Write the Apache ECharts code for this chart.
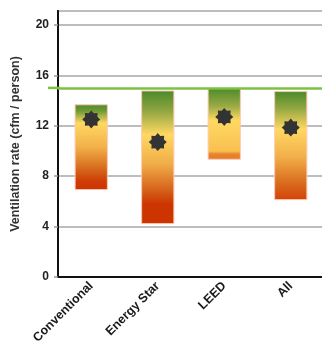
<!DOCTYPE html>
<html>
<head>
<meta charset="utf-8">
<script src="https://cdn.jsdelivr.net/npm/echarts@6/dist/echarts.min.js"></script>
<style>html,body{margin:0;padding:0;background:#fff}#c{width:322px;height:347px}</style>
</head>
<body>
<div id="c"></div>
<script>
var categories = ['Conventional', 'Energy Star', 'LEED', 'All'];
var lows = [6.9, 4.2, 9.3, 6.1];
var highs = [13.7, 14.8, 15.0, 14.75];
var means = [12.5, 10.7, 12.7, 11.85];
var standard = 15;
var yTicks = [0, 4, 8, 12, 16, 20];

var gradStops = [
  [[0,'#4b8a2a'],[0.08,'#6f9a35'],[0.22,'#ffd862'],[0.5,'#f2b04a'],[0.75,'#d66a1c'],[0.9,'#cf3c06'],[1,'#cc3300']],
  [[0,'#4b8a2a'],[0.15,'#8ea541'],[0.33,'#ffd862'],[0.55,'#f0ad48'],[0.75,'#d4601a'],[0.85,'#cc3500'],[1,'#cc3300']],
  [[0,'#4b8a2a'],[0.25,'#99a945'],[0.45,'#ffd862'],[0.88,'#f8c050'],[0.92,'#e8852e'],[1,'#e07a26']],
  [[0,'#4b8a2a'],[0.15,'#8ea541'],[0.35,'#ffd862'],[0.6,'#f2b04a'],[0.85,'#d86a1c'],[1,'#d4420a']]
];

function grad(stops){
  return new echarts.graphic.LinearGradient(0,0,0,1, stops.map(function(s){return {offset:s[0], color:s[1]};}));
}

function starPath(n, R, r){
  var d = '';
  for (var i = 0; i < 2*n; i++){
    var a = Math.PI * i / n - Math.PI/2;
    var rad = (i % 2 === 0) ? R : r;
    var x = (Math.cos(a)*rad).toFixed(3), y = (Math.sin(a)*rad).toFixed(3);
    d += (i === 0 ? 'M' : 'L') + x + ' ' + y + ' ';
  }
  return 'path://' + d + 'Z';
}

var chart = echarts.init(document.getElementById('c'));
chart.setOption({
  animation: false,
  grid: { left: 58, right: -2, top: 11, bottom: 70, containLabel: false, outerBoundsMode: 'none',
          show: true, borderColor: '#111', borderWidth: 2, backgroundColor: 'transparent' },
  xAxis: {
    type: 'category', data: categories,
    axisLine: { show: true, lineStyle: { color: '#111', width: 2 } },
    axisTick: { show: false },
    axisLabel: { rotate: 45, interval: 0, margin: 7, color: '#1a1a1a', fontFamily: 'Liberation Sans', fontWeight: 'bold', fontSize: 12.5 }
  },
  yAxis: {
    type: 'value', min: 0, max: 21.1, interval: 4,
    name: 'Ventilation rate (cfm / person)', nameLocation: 'middle', nameGap: 36,
    nameTextStyle: { color: '#333', fontFamily: 'Liberation Sans', fontWeight: 'bold', fontSize: 12.5 },
    axisLine: { show: true, lineStyle: { color: '#111', width: 2 } },
    axisTick: { show: true, length: 4, lineStyle: { color: '#999', width: 1.5 } },
    axisLabel: { showMaxLabel: false, margin: 9, color: '#222', fontFamily: 'Liberation Sans', fontWeight: 'bold', fontSize: 12,
      formatter: function(v){ return yTicks.indexOf(v) >= 0 ? String(v) : ''; } },
    splitLine: { show: true, lineStyle: { color: '#bdbdbd', width: 2 } }
  },
  series: [
    { type: 'bar', stack: 'r', data: lows, barWidth: '50%', itemStyle: { color: 'transparent' }, silent: true },
    { type: 'bar', stack: 'r', barWidth: '50%',
      data: highs.map(function(h, i){ return { value: +(h - lows[i]).toFixed(3), itemStyle: { color: grad(gradStops[i]), borderColor: 'rgba(255,200,180,0.6)', borderWidth: 1 } }; }),
      markLine: { silent: true, symbol: 'none', label: { show: false },
        lineStyle: { color: '#7cc242', width: 2.5, type: 'solid' },
        data: [{ yAxis: standard }] }
    },
    { type: 'scatter', data: means, symbol: starPath(8, 1, 0.74), symbolSize: 18, itemStyle: { color: '#333', opacity: 1 }, z: 5 }
  ]
});
// extend the standard line slightly left of the axis, positioned via the axis scale
var yPix = chart.convertToPixel({ yAxisIndex: 0 }, standard);
chart.setOption({ graphic: [{ type: 'line', shape: { x1: 48, y1: yPix, x2: 60, y2: yPix }, style: { stroke: '#7cc242', lineWidth: 2.5 }, z: 10 }] });
</script>
</body>
</html>
